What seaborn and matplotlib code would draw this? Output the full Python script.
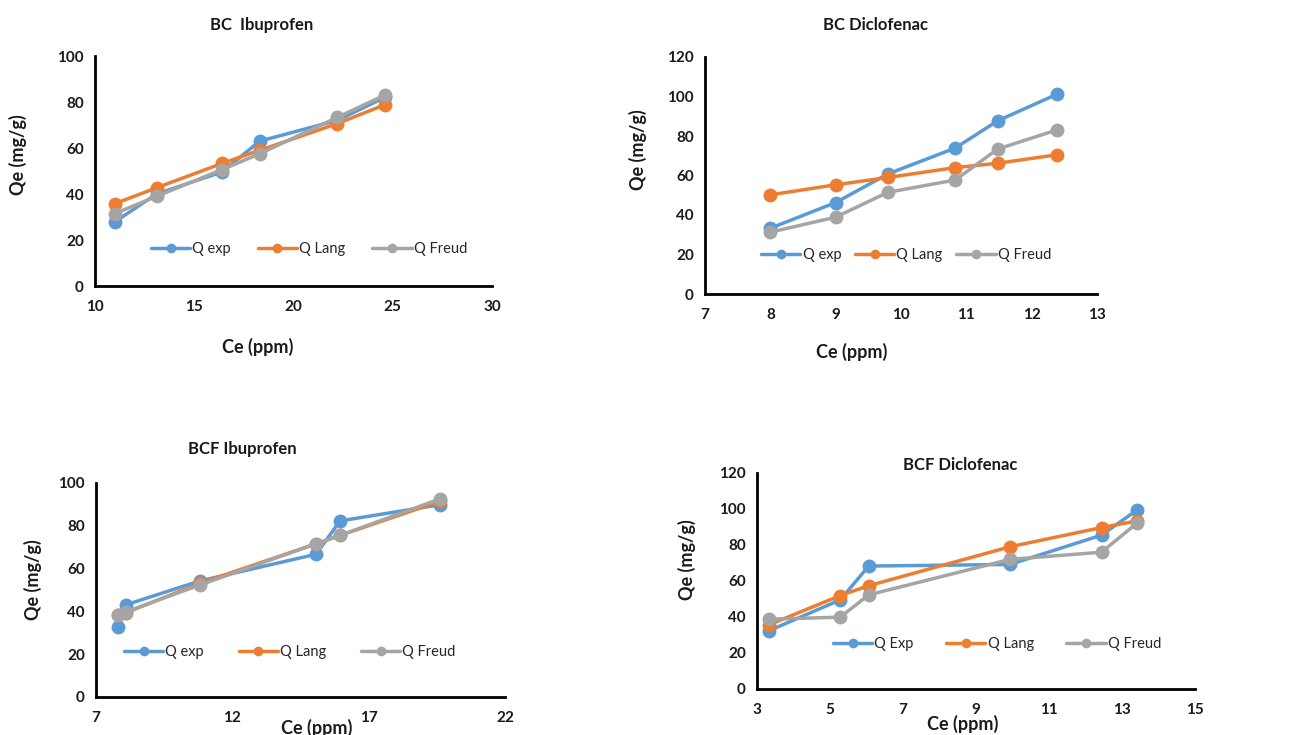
import matplotlib
matplotlib.use("Agg")
import matplotlib.pyplot as plt
import seaborn as sns
import pandas as pd

# ---------------- data ----------------
series_names = ["Q exp", "Q Lang", "Q Freud"]
series_names_bcf_dic = ["Q Exp", "Q Lang", "Q Freud"]

# BC Ibuprofen
bc_ibu_ce = [11.0, 13.1, 16.4, 18.3, 22.2, 24.6]
bc_ibu_exp = [27.9, 40.0, 49.6, 63.0, 72.0, 82.0]
bc_ibu_lang = [35.8, 42.7, 53.3, 59.0, 70.6, 78.8]
bc_ibu_freud = [31.5, 39.0, 50.6, 57.5, 73.3, 83.0]

# BC Diclofenac
bc_dic_ce = [8.0, 9.0, 9.8, 10.83, 11.48, 12.39]
bc_dic_exp = [33.3, 46.3, 60.8, 73.9, 87.7, 101.2]
bc_dic_lang = [50.2, 55.3, 59.0, 64.0, 66.2, 70.5]
bc_dic_freud = [31.3, 38.9, 51.5, 57.7, 73.4, 83.1]

# BCF Ibuprofen
bcf_ibu_ce = [7.8, 8.1, 10.8, 15.07, 15.95, 19.6]
bcf_ibu_exp = [32.8, 43.1, 54.2, 66.7, 82.3, 89.8]
bcf_ibu_lang = [38.3, 39.4, 53.1, 71.6, 75.5, 91.4]
bcf_ibu_freud = [38.3, 39.8, 52.3, 71.6, 75.5, 92.5]

# BCF Diclofenac
bcf_dic_ce = [3.32, 5.28, 6.06, 9.93, 12.44, 13.42]
bcf_dic_exp = [32.3, 49.5, 68.3, 69.2, 85.5, 99.6]
bcf_dic_lang = [35.6, 51.9, 57.4, 79.0, 89.7, 93.4]
bcf_dic_freud = [38.8, 39.9, 52.3, 72.0, 76.0, 92.3]

titles = ["BC  Ibuprofen", "BC Diclofenac", "BCF Ibuprofen", "BCF Diclofenac"]
x_label = "Ce (ppm)"
y_label = "Qe (mg/g)"

colors = ["#5B9BD5", "#ED7D31", "#A5A5A5"]

# ---------------- style ----------------
sns.set_theme(style="white")
plt.rcParams["font.family"] = ["Lato", "DejaVu Sans"]
plt.rcParams["axes.edgecolor"] = "black"

fig = plt.figure(figsize=(12.96, 7.35), dpi=100)
fig.patch.set_facecolor("white")

panels = [
    dict(rect=[95/1296, 449/735, 397/1296, 230/735],
         ce=bc_ibu_ce, ys=[bc_ibu_exp, bc_ibu_lang, bc_ibu_freud], names=series_names,
         xlim=(10, 30), xticks=[10, 15, 20, 25, 30], ylim=(0, 100), yticks=[0, 20, 40, 60, 80, 100],
         title=titles[0], title_pos=(0.42, 1.135), xl_pos=(0.41, -0.265), yl_pos=(-0.194, 0.57),
         leg=(0.126, 0.16, 0.826)),
    dict(rect=[705/1296, 441/735, 392/1296, 237/735],
         ce=bc_dic_ce, ys=[bc_dic_exp, bc_dic_lang, bc_dic_freud], names=series_names,
         xlim=(7, 13), xticks=[7, 8, 9, 10, 11, 12, 13], ylim=(0, 120), yticks=[0, 20, 40, 60, 80, 100, 120],
         title=titles[1], title_pos=(0.434, 1.135), xl_pos=(0.375, -0.245), yl_pos=(-0.171, 0.61),
         leg=(0.128, 0.165, 0.77)),
    dict(rect=[96/1296, 38/735, 409/1296, 214/735],
         ce=bcf_ibu_ce, ys=[bcf_ibu_exp, bcf_ibu_lang, bcf_ibu_freud], names=series_names,
         xlim=(7, 22), xticks=[7, 12, 17, 22], ylim=(0, 100), yticks=[0, 20, 40, 60, 80, 100],
         title=titles[2], title_pos=(0.357, 1.159), xl_pos=(0.54, -0.145), yl_pos=(-0.154, 0.547),
         leg=(0.054, 0.21, 0.84)),
    dict(rect=[757/1296, 46/735, 438/1296, 216/735],
         ce=bcf_dic_ce, ys=[bcf_dic_exp, bcf_dic_lang, bcf_dic_freud], names=series_names_bcf_dic,
         xlim=(3, 15), xticks=[3, 5, 7, 9, 11, 13, 15], ylim=(0, 120), yticks=[0, 20, 40, 60, 80, 100, 120],
         title=titles[3], title_pos=(0.463, 1.037), xl_pos=(0.47, -0.16), yl_pos=(-0.16, 0.6),
         leg=(0.16, 0.208, 0.776)),
]

text_color = "#1a1a1a"

for p in panels:
    ax = fig.add_axes(p["rect"])
    frames = []
    for name, vals in zip(p["names"], p["ys"]):
        frames.append(pd.DataFrame({"Ce": p["ce"], "Qe": vals, "series": name}))
    df = pd.concat(frames, ignore_index=True)
    sns.lineplot(data=df, x="Ce", y="Qe", hue="series", hue_order=p["names"],
                 palette=colors, marker="o", markersize=10, markeredgewidth=0,
                 linewidth=2.5, sort=False, errorbar=None, legend=False, ax=ax)

    ax.set_xlim(*p["xlim"])
    ax.set_ylim(*p["ylim"])
    ax.set_xticks(p["xticks"])
    ax.set_yticks(p["yticks"])
    ax.set_xticklabels([str(t) for t in p["xticks"]])
    ax.set_yticklabels([str(t) for t in p["yticks"]])
    for s in ["top", "right"]:
        ax.spines[s].set_visible(False)
    for s in ["left", "bottom"]:
        ax.spines[s].set_linewidth(2.0)
        ax.spines[s].set_color("black")
    ax.tick_params(axis="both", direction="inout", length=8, width=2.0, color="black",
                   labelsize=11, labelcolor=text_color)
    ax.tick_params(axis="x", pad=6)
    ax.tick_params(axis="y", pad=4)
    for lab in ax.get_xticklabels() + ax.get_yticklabels():
        lab.set_fontweight("bold")
    ax.set_facecolor("white")
    ax.grid(False)

    ax.set_xlabel(x_label, fontsize=13, fontweight="bold", color=text_color, va="center")
    ax.xaxis.set_label_coords(*p["xl_pos"])
    ax.set_ylabel(y_label, fontsize=13, fontweight="bold", color=text_color, va="center")
    ax.yaxis.set_label_coords(*p["yl_pos"])

    ax.text(p["title_pos"][0], p["title_pos"][1], p["title"], transform=ax.transAxes,
            ha="center", va="center", fontsize=12, fontweight="bold", color=text_color)

    lines = ax.get_lines()[:3]
    x0, y0, w = p["leg"]
    leg = ax.legend(lines, p["names"], loc="center left", bbox_to_anchor=(x0, y0 - 0.05, w, 0.1),
                    mode="expand", ncol=3, frameon=False, fontsize=10.5, handlelength=2.7,
                    handletextpad=0.15, borderaxespad=0, markerscale=0.7)
    for t in leg.get_texts():
        t.set_color("#262626")

fig.savefig("out.png", dpi=100, facecolor="white")
